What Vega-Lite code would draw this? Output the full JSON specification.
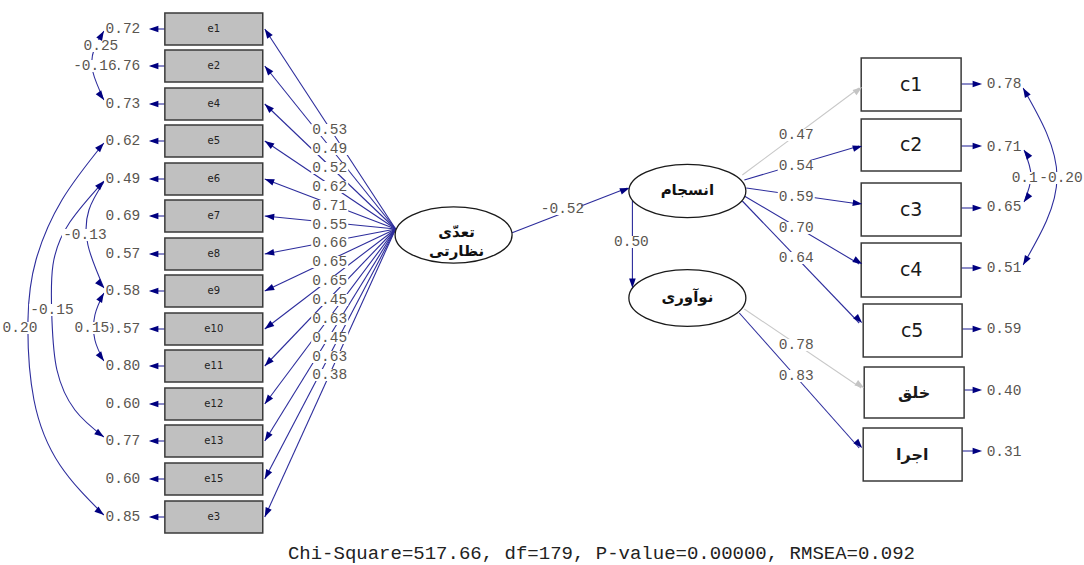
{
  "$schema": "https://vega.github.io/schema/vega-lite/v6.json",
  "width": 1084,
  "height": 565,
  "autosize": {"type": "fit", "contains": "padding"},
  "padding": 0,
  "background": "white",
  "config": {"view": {"stroke": null}},
  "resolve": {"scale": {"fill": "independent"}},
  "datasets": {
    "edges": [
      {"x": 396, "y": 229, "x2": 265, "y2": 29, "kind": "free"},
      {"x": 396, "y": 229, "x2": 265, "y2": 66, "kind": "free"},
      {"x": 396, "y": 229, "x2": 265, "y2": 104, "kind": "free"},
      {"x": 396, "y": 229, "x2": 265, "y2": 141, "kind": "free"},
      {"x": 396, "y": 229, "x2": 265, "y2": 179, "kind": "free"},
      {"x": 396, "y": 229, "x2": 265, "y2": 216, "kind": "free"},
      {"x": 396, "y": 229, "x2": 265, "y2": 254, "kind": "free"},
      {"x": 396, "y": 229, "x2": 265, "y2": 291, "kind": "free"},
      {"x": 396, "y": 229, "x2": 265, "y2": 329, "kind": "free"},
      {"x": 396, "y": 229, "x2": 265, "y2": 366, "kind": "free"},
      {"x": 396, "y": 229, "x2": 265, "y2": 404, "kind": "free"},
      {"x": 396, "y": 229, "x2": 265, "y2": 441, "kind": "free"},
      {"x": 396, "y": 229, "x2": 265, "y2": 479, "kind": "free"},
      {"x": 396, "y": 229, "x2": 265, "y2": 517, "kind": "free"},
      {"x": 165, "y": 29, "x2": 151, "y2": 29, "kind": "free"},
      {"x": 165, "y": 66, "x2": 151, "y2": 66, "kind": "free"},
      {"x": 165, "y": 104, "x2": 151, "y2": 104, "kind": "free"},
      {"x": 165, "y": 141, "x2": 151, "y2": 141, "kind": "free"},
      {"x": 165, "y": 179, "x2": 151, "y2": 179, "kind": "free"},
      {"x": 165, "y": 216, "x2": 151, "y2": 216, "kind": "free"},
      {"x": 165, "y": 254, "x2": 151, "y2": 254, "kind": "free"},
      {"x": 165, "y": 291, "x2": 151, "y2": 291, "kind": "free"},
      {"x": 165, "y": 329, "x2": 151, "y2": 329, "kind": "free"},
      {"x": 165, "y": 366, "x2": 151, "y2": 366, "kind": "free"},
      {"x": 165, "y": 404, "x2": 151, "y2": 404, "kind": "free"},
      {"x": 165, "y": 441, "x2": 151, "y2": 441, "kind": "free"},
      {"x": 165, "y": 479, "x2": 151, "y2": 479, "kind": "free"},
      {"x": 165, "y": 517, "x2": 151, "y2": 517, "kind": "free"},
      {"x": 743, "y": 175, "x2": 860, "y2": 88, "kind": "fixed"},
      {"x": 745, "y": 180, "x2": 860, "y2": 146, "kind": "free"},
      {"x": 747, "y": 188, "x2": 860, "y2": 204, "kind": "free"},
      {"x": 745, "y": 196, "x2": 860, "y2": 264, "kind": "free"},
      {"x": 743, "y": 201, "x2": 860, "y2": 323, "kind": "free"},
      {"x": 745, "y": 309, "x2": 862, "y2": 388, "kind": "fixed"},
      {"x": 740, "y": 313, "x2": 860, "y2": 448, "kind": "free"},
      {"x": 512, "y": 233, "x2": 628, "y2": 188, "kind": "free"},
      {"x": 633, "y": 194, "x2": 633, "y2": 286, "kind": "free"},
      {"x": 962, "y": 84, "x2": 980, "y2": 84, "kind": "free"},
      {"x": 962, "y": 146, "x2": 980, "y2": 146, "kind": "free"},
      {"x": 962, "y": 208, "x2": 980, "y2": 208, "kind": "free"},
      {"x": 962, "y": 268, "x2": 980, "y2": 268, "kind": "free"},
      {"x": 962, "y": 329, "x2": 980, "y2": 329, "kind": "free"},
      {"x": 962, "y": 390, "x2": 980, "y2": 390, "kind": "free"},
      {"x": 962, "y": 451, "x2": 980, "y2": 451, "kind": "free"}
    ],
    "arcs": [
      {"id": "A1", "i": 0, "x": 104, "y": 31}, {"id": "A1", "i": 1, "x": 94, "y": 50}, {"id": "A1", "i": 2, "x": 93, "y": 72}, {"id": "A1", "i": 3, "x": 104, "y": 100},
      {"id": "A2", "i": 0, "x": 104, "y": 143}, {"id": "A2", "i": 1, "x": 62, "y": 200}, {"id": "A2", "i": 2, "x": 36, "y": 260}, {"id": "A2", "i": 3, "x": 28, "y": 320}, {"id": "A2", "i": 4, "x": 34, "y": 400}, {"id": "A2", "i": 5, "x": 60, "y": 465}, {"id": "A2", "i": 6, "x": 104, "y": 515},
      {"id": "A3", "i": 0, "x": 104, "y": 181}, {"id": "A3", "i": 1, "x": 70, "y": 222}, {"id": "A3", "i": 2, "x": 53, "y": 265}, {"id": "A3", "i": 3, "x": 52, "y": 320}, {"id": "A3", "i": 4, "x": 57, "y": 370}, {"id": "A3", "i": 5, "x": 75, "y": 410}, {"id": "A3", "i": 6, "x": 104, "y": 437},
      {"id": "A4", "i": 0, "x": 104, "y": 182}, {"id": "A4", "i": 1, "x": 89, "y": 210}, {"id": "A4", "i": 2, "x": 88, "y": 245}, {"id": "A4", "i": 3, "x": 104, "y": 288},
      {"id": "A5", "i": 0, "x": 104, "y": 293}, {"id": "A5", "i": 1, "x": 95, "y": 315}, {"id": "A5", "i": 2, "x": 95, "y": 340}, {"id": "A5", "i": 3, "x": 104, "y": 361},
      {"id": "A6", "i": 0, "x": 1024, "y": 88}, {"id": "A6", "i": 1, "x": 1058, "y": 177}, {"id": "A6", "i": 2, "x": 1024, "y": 265},
      {"id": "A7", "i": 0, "x": 1025, "y": 150}, {"id": "A7", "i": 1, "x": 1032, "y": 176}, {"id": "A7", "i": 2, "x": 1025, "y": 202}
    ],
    "arrows": [
      {"x": 265, "y": 29, "ang": 326.8, "kind": "free"},
      {"x": 265, "y": 66, "ang": 321.2, "kind": "free"},
      {"x": 265, "y": 104, "ang": 313.7, "kind": "free"},
      {"x": 265, "y": 141, "ang": 303.9, "kind": "free"},
      {"x": 265, "y": 179, "ang": 290.9, "kind": "free"},
      {"x": 265, "y": 216, "ang": 275.7, "kind": "free"},
      {"x": 265, "y": 254, "ang": 259.2, "kind": "free"},
      {"x": 265, "y": 291, "ang": 244.7, "kind": "free"},
      {"x": 265, "y": 329, "ang": 232.6, "kind": "free"},
      {"x": 265, "y": 366, "ang": 223.7, "kind": "free"},
      {"x": 265, "y": 404, "ang": 216.8, "kind": "free"},
      {"x": 265, "y": 441, "ang": 211.7, "kind": "free"},
      {"x": 265, "y": 479, "ang": 207.7, "kind": "free"},
      {"x": 265, "y": 517, "ang": 204.5, "kind": "free"},
      {"x": 149, "y": 29, "ang": 270, "kind": "free"},
      {"x": 149, "y": 66, "ang": 270, "kind": "free"},
      {"x": 149, "y": 104, "ang": 270, "kind": "free"},
      {"x": 149, "y": 141, "ang": 270, "kind": "free"},
      {"x": 149, "y": 179, "ang": 270, "kind": "free"},
      {"x": 149, "y": 216, "ang": 270, "kind": "free"},
      {"x": 149, "y": 254, "ang": 270, "kind": "free"},
      {"x": 149, "y": 291, "ang": 270, "kind": "free"},
      {"x": 149, "y": 329, "ang": 270, "kind": "free"},
      {"x": 149, "y": 366, "ang": 270, "kind": "free"},
      {"x": 149, "y": 404, "ang": 270, "kind": "free"},
      {"x": 149, "y": 441, "ang": 270, "kind": "free"},
      {"x": 149, "y": 479, "ang": 270, "kind": "free"},
      {"x": 149, "y": 517, "ang": 270, "kind": "free"},
      {"x": 863, "y": 87, "ang": 53.8, "kind": "fixed"},
      {"x": 863, "y": 146, "ang": 73.8, "kind": "free"},
      {"x": 863, "y": 204, "ang": 97.9, "kind": "free"},
      {"x": 863, "y": 264, "ang": 120.2, "kind": "free"},
      {"x": 863, "y": 323, "ang": 135.7, "kind": "free"},
      {"x": 865, "y": 388, "ang": 123.6, "kind": "fixed"},
      {"x": 863, "y": 448, "ang": 137.9, "kind": "free"},
      {"x": 630, "y": 188, "ang": 69.1, "kind": "free"},
      {"x": 633, "y": 288, "ang": 180, "kind": "free"},
      {"x": 983, "y": 84, "ang": 90, "kind": "free"},
      {"x": 983, "y": 146, "ang": 90, "kind": "free"},
      {"x": 983, "y": 208, "ang": 90, "kind": "free"},
      {"x": 983, "y": 268, "ang": 90, "kind": "free"},
      {"x": 983, "y": 329, "ang": 90, "kind": "free"},
      {"x": 983, "y": 390, "ang": 90, "kind": "free"},
      {"x": 983, "y": 451, "ang": 90, "kind": "free"},
      {"x": 104, "y": 31, "ang": 30, "kind": "free"},
      {"x": 104, "y": 100, "ang": 145, "kind": "free"},
      {"x": 104, "y": 143, "ang": 42, "kind": "free"},
      {"x": 104, "y": 515, "ang": 128, "kind": "free"},
      {"x": 104, "y": 181, "ang": 42, "kind": "free"},
      {"x": 104, "y": 437, "ang": 125, "kind": "free"},
      {"x": 104, "y": 288, "ang": 138, "kind": "free"},
      {"x": 104, "y": 293, "ang": 30, "kind": "free"},
      {"x": 104, "y": 361, "ang": 145, "kind": "free"},
      {"x": 1024, "y": 88, "ang": 330, "kind": "free"},
      {"x": 1024, "y": 265, "ang": 210, "kind": "free"},
      {"x": 1025, "y": 150, "ang": 325, "kind": "free"},
      {"x": 1025, "y": 202, "ang": 215, "kind": "free"}
    ],
    "labels": [
      {"t": "0.72", "x": 123, "y": 29, "k": "a"}, {"t": "0.76", "x": 123, "y": 66, "k": "a"}, {"t": "0.73", "x": 123, "y": 104, "k": "a"},
      {"t": "0.62", "x": 123, "y": 141, "k": "a"}, {"t": "0.49", "x": 123, "y": 179, "k": "a"}, {"t": "0.69", "x": 123, "y": 216, "k": "a"},
      {"t": "0.57", "x": 123, "y": 254, "k": "a"}, {"t": "0.58", "x": 123, "y": 291, "k": "a"}, {"t": "0.57", "x": 123, "y": 329, "k": "a"},
      {"t": "0.80", "x": 123, "y": 366, "k": "a"}, {"t": "0.60", "x": 123, "y": 404, "k": "a"}, {"t": "0.77", "x": 123, "y": 441, "k": "a"},
      {"t": "0.60", "x": 123, "y": 479, "k": "a"}, {"t": "0.85", "x": 123, "y": 517, "k": "a"},
      {"t": "0.25", "x": 101, "y": 46, "k": "b"}, {"t": "-0.16", "x": 95, "y": 66, "k": "b"}, {"t": "-0.13", "x": 85, "y": 235, "k": "b"},
      {"t": "-0.15", "x": 52, "y": 310, "k": "b"}, {"t": "0.20", "x": 20, "y": 328, "k": "b"}, {"t": "0.15", "x": 92, "y": 328, "k": "b"},
      {"t": "0.53", "x": 330, "y": 130, "k": "a"}, {"t": "0.49", "x": 330, "y": 149, "k": "a"}, {"t": "0.52", "x": 330, "y": 168, "k": "a"},
      {"t": "0.62", "x": 330, "y": 187, "k": "a"}, {"t": "0.71", "x": 330, "y": 206, "k": "a"}, {"t": "0.55", "x": 330, "y": 225, "k": "a"},
      {"t": "0.66", "x": 330, "y": 243, "k": "a"}, {"t": "0.65", "x": 330, "y": 262, "k": "a"}, {"t": "0.65", "x": 330, "y": 281, "k": "a"},
      {"t": "0.45", "x": 330, "y": 300, "k": "a"}, {"t": "0.63", "x": 330, "y": 319, "k": "a"}, {"t": "0.45", "x": 330, "y": 338, "k": "a"},
      {"t": "0.63", "x": 330, "y": 357, "k": "a"}, {"t": "0.38", "x": 330, "y": 375, "k": "a"},
      {"t": "-0.52", "x": 563, "y": 209, "k": "a"}, {"t": "0.50", "x": 632, "y": 242, "k": "a"},
      {"t": "0.47", "x": 797, "y": 135, "k": "a"}, {"t": "0.54", "x": 797, "y": 166, "k": "a"}, {"t": "0.59", "x": 797, "y": 197, "k": "a"},
      {"t": "0.70", "x": 797, "y": 228, "k": "a"}, {"t": "0.64", "x": 797, "y": 258, "k": "a"}, {"t": "0.78", "x": 797, "y": 345, "k": "a"},
      {"t": "0.83", "x": 797, "y": 376, "k": "a"},
      {"t": "0.78", "x": 1005, "y": 84, "k": "a"}, {"t": "0.71", "x": 1005, "y": 147, "k": "a"}, {"t": "0.65", "x": 1005, "y": 207, "k": "a"},
      {"t": "0.51", "x": 1005, "y": 268, "k": "a"}, {"t": "0.59", "x": 1005, "y": 329, "k": "a"}, {"t": "0.40", "x": 1005, "y": 391, "k": "a"},
      {"t": "0.31", "x": 1005, "y": 452, "k": "a"},
      {"t": "0.17", "x": 1030, "y": 178, "k": "a"}, {"t": "-0.20", "x": 1062, "y": 178, "k": "b"}
    ],
    "boxes": [
      {"t": "e1", "x1": 165, "x2": 263, "y1": 13, "y2": 45, "xc": 214, "yc": 29, "side": "left"},
      {"t": "e2", "x1": 165, "x2": 263, "y1": 50, "y2": 82, "xc": 214, "yc": 66, "side": "left"},
      {"t": "e4", "x1": 165, "x2": 263, "y1": 88, "y2": 120, "xc": 214, "yc": 104, "side": "left"},
      {"t": "e5", "x1": 165, "x2": 263, "y1": 125, "y2": 157, "xc": 214, "yc": 141, "side": "left"},
      {"t": "e6", "x1": 165, "x2": 263, "y1": 163, "y2": 195, "xc": 214, "yc": 179, "side": "left"},
      {"t": "e7", "x1": 165, "x2": 263, "y1": 200, "y2": 232, "xc": 214, "yc": 216, "side": "left"},
      {"t": "e8", "x1": 165, "x2": 263, "y1": 238, "y2": 270, "xc": 214, "yc": 254, "side": "left"},
      {"t": "e9", "x1": 165, "x2": 263, "y1": 275, "y2": 307, "xc": 214, "yc": 291, "side": "left"},
      {"t": "e10", "x1": 165, "x2": 263, "y1": 313, "y2": 345, "xc": 214, "yc": 329, "side": "left"},
      {"t": "e11", "x1": 165, "x2": 263, "y1": 350, "y2": 382, "xc": 214, "yc": 366, "side": "left"},
      {"t": "e12", "x1": 165, "x2": 263, "y1": 388, "y2": 420, "xc": 214, "yc": 404, "side": "left"},
      {"t": "e13", "x1": 165, "x2": 263, "y1": 425, "y2": 457, "xc": 214, "yc": 441, "side": "left"},
      {"t": "e15", "x1": 165, "x2": 263, "y1": 463, "y2": 495, "xc": 214, "yc": 479, "side": "left"},
      {"t": "e3", "x1": 165, "x2": 263, "y1": 501, "y2": 533, "xc": 214, "yc": 517, "side": "left"},
      {"t": "c1", "x1": 862, "x2": 962, "y1": 58, "y2": 111, "xc": 912, "yc": 84.5, "side": "right"},
      {"t": "c2", "x1": 862, "x2": 962, "y1": 119, "y2": 171, "xc": 912, "yc": 145, "side": "right"},
      {"t": "c3", "x1": 862, "x2": 962, "y1": 183, "y2": 236, "xc": 912, "yc": 209.5, "side": "right"},
      {"t": "c4", "x1": 862, "x2": 962, "y1": 243, "y2": 297, "xc": 912, "yc": 270, "side": "right"},
      {"t": "c5", "x1": 864, "x2": 963, "y1": 304, "y2": 357, "xc": 913, "yc": 330.5, "side": "right"},
      {"t": "خلق", "x1": 865, "x2": 965, "y1": 367, "y2": 418, "xc": 915, "yc": 392.5, "side": "fa"},
      {"t": "اجرا", "x1": 864, "x2": 963, "y1": 428, "y2": 481, "xc": 913, "yc": 454.5, "side": "fa"}
    ],
    "latent": [
      {"name": "tadi", "t": "تعدّی\nنظارتی", "x": 454, "y": 235, "tx": 457, "ty": 232},
      {"name": "ensejam", "t": "انسجام", "x": 688, "y": 191, "tx": 688, "ty": 190},
      {"name": "noavari", "t": "نوآوری", "x": 688, "y": 298, "tx": 688, "ty": 297}
    ],
    "fit": [
      {"t": "Chi-Square=517.66, df=179, P-value=0.00000, RMSEA=0.092", "x": 602, "y": 553}
    ]
  },
  "layer": [
    {
      "data": {"name": "edges"},
      "mark": {"type": "rule", "strokeWidth": 1.1},
      "encoding": {
        "x": {"field": "x", "type": "quantitative", "scale": {"domain": [0, 1084], "nice": false, "zero": false}, "axis": null},
        "y": {"field": "y", "type": "quantitative", "scale": {"domain": [0, 565], "reverse": true, "nice": false, "zero": false}, "axis": null},
        "x2": {"field": "x2"},
        "y2": {"field": "y2"},
        "color": {"field": "kind", "type": "nominal", "scale": {"domain": ["free", "fixed"], "range": ["#2c2c9c", "#c8c8c8"]}, "legend": null}
      }
    },
    {
      "data": {"name": "arcs"},
      "mark": {"type": "line", "interpolate": "natural", "strokeWidth": 1.1, "color": "#2c2c9c"},
      "encoding": {
        "x": {"field": "x", "type": "quantitative", "axis": null},
        "y": {"field": "y", "type": "quantitative", "axis": null},
        "detail": {"field": "id", "type": "nominal"},
        "order": {"field": "i", "type": "quantitative"}
      }
    },
    {
      "data": {"name": "labels"},
      "transform": [{"filter": "datum.k == 'a'"}],
      "mark": {"type": "point", "shape": "M-1,-0.33L1,-0.33L1,0.33L-1,0.33Z", "filled": true, "fill": "white", "strokeWidth": 0, "opacity": 1, "size": 1369},
      "encoding": {
        "x": {"field": "x", "type": "quantitative", "axis": null},
        "y": {"field": "y", "type": "quantitative", "axis": null}
      }
    },
    {
      "data": {"name": "labels"},
      "transform": [{"filter": "datum.k == 'a'"}],
      "mark": {"type": "text", "font": "Liberation Mono", "fontSize": 14.5, "color": "#5a5650", "align": "center", "baseline": "middle"},
      "encoding": {
        "x": {"field": "x", "type": "quantitative", "axis": null},
        "y": {"field": "y", "type": "quantitative", "axis": null},
        "text": {"field": "t", "type": "nominal"}
      }
    },
    {
      "data": {"name": "labels"},
      "transform": [{"filter": "datum.k == 'b' && length(datum.t) <= 4"}],
      "mark": {"type": "point", "shape": "M-1,-0.33L1,-0.33L1,0.33L-1,0.33Z", "filled": true, "fill": "white", "strokeWidth": 0, "opacity": 1, "size": 1369},
      "encoding": {
        "x": {"field": "x", "type": "quantitative", "axis": null},
        "y": {"field": "y", "type": "quantitative", "axis": null}
      }
    },
    {
      "data": {"name": "labels"},
      "transform": [{"filter": "datum.k == 'b' && length(datum.t) > 4"}],
      "mark": {"type": "point", "shape": "M-1,-0.26L1,-0.26L1,0.26L-1,0.26Z", "filled": true, "fill": "white", "strokeWidth": 0, "opacity": 1, "size": 2116},
      "encoding": {
        "x": {"field": "x", "type": "quantitative", "axis": null},
        "y": {"field": "y", "type": "quantitative", "axis": null}
      }
    },
    {
      "data": {"name": "labels"},
      "transform": [{"filter": "datum.k == 'b'"}],
      "mark": {"type": "text", "font": "Liberation Mono", "fontSize": 14.5, "color": "#5a5650", "align": "center", "baseline": "middle"},
      "encoding": {
        "x": {"field": "x", "type": "quantitative", "axis": null},
        "y": {"field": "y", "type": "quantitative", "axis": null},
        "text": {"field": "t", "type": "nominal"}
      }
    },
    {
      "data": {"name": "boxes"},
      "mark": {"type": "rect", "stroke": "#3a3a3a", "strokeWidth": 1.5},
      "encoding": {
        "x": {"field": "x1", "type": "quantitative", "axis": null},
        "x2": {"field": "x2"},
        "y": {"field": "y1", "type": "quantitative", "axis": null},
        "y2": {"field": "y2"},
        "fill": {"field": "side", "type": "nominal", "scale": {"domain": ["left", "right", "fa"], "range": ["#c0c0c0", "#ffffff", "#ffffff"]}, "legend": null}
      }
    },
    {
      "data": {"name": "latent"},
      "mark": {"type": "point", "fill": "white", "stroke": "#1a1a1a", "strokeWidth": 1.3, "opacity": 1, "fillOpacity": 1, "size": 13689},
      "encoding": {
        "x": {"field": "x", "type": "quantitative", "axis": null},
        "y": {"field": "y", "type": "quantitative", "axis": null},
        "shape": {"field": "name", "type": "nominal", "scale": {"domain": ["tadi", "ensejam", "noavari"], "range": ["M-1,0A1,0.48 0 1,0 1,0A1,0.48 0 1,0 -1,0Z", "M-1,0A1,0.455 0 1,0 1,0A1,0.455 0 1,0 -1,0Z", "M-1,0A1,0.485 0 1,0 1,0A1,0.485 0 1,0 -1,0Z"]}, "legend": null}
      }
    },
    {
      "data": {"name": "arrows"},
      "mark": {"type": "point", "shape": "M0,0L0.7,2L-0.7,2Z", "filled": true, "strokeWidth": 0, "opacity": 1, "size": 90},
      "encoding": {
        "x": {"field": "x", "type": "quantitative", "axis": null},
        "y": {"field": "y", "type": "quantitative", "axis": null},
        "angle": {"field": "ang", "type": "quantitative", "scale": {"domain": [0, 360], "range": [0, 360]}, "legend": null},
        "fill": {"field": "kind", "type": "nominal", "scale": {"domain": ["free", "fixed"], "range": ["#000080", "#c4c4c4"]}, "legend": null}
      }
    },
    {
      "data": {"name": "boxes"},
      "transform": [{"filter": "datum.side == 'left'"}],
      "mark": {"type": "text", "font": "DejaVu Sans", "fontSize": 10, "color": "#222222", "align": "center", "baseline": "middle"},
      "encoding": {
        "x": {"field": "xc", "type": "quantitative", "axis": null},
        "y": {"field": "yc", "type": "quantitative", "axis": null},
        "text": {"field": "t", "type": "nominal"}
      }
    },
    {
      "data": {"name": "boxes"},
      "transform": [{"filter": "datum.side == 'right'"}],
      "mark": {"type": "text", "font": "DejaVu Sans", "fontSize": 19, "color": "#1a1a1a", "align": "center", "baseline": "middle"},
      "encoding": {
        "x": {"field": "xc", "type": "quantitative", "axis": null},
        "y": {"field": "yc", "type": "quantitative", "axis": null},
        "text": {"field": "t", "type": "nominal"}
      }
    },
    {
      "data": {"name": "boxes"},
      "transform": [{"filter": "datum.side == 'fa'"}],
      "mark": {"type": "text", "font": "DejaVu Sans", "fontSize": 16, "fontWeight": "bold", "color": "#1a1a1a", "align": "center", "baseline": "middle"},
      "encoding": {
        "x": {"field": "xc", "type": "quantitative", "axis": null},
        "y": {"field": "yc", "type": "quantitative", "axis": null},
        "text": {"field": "t", "type": "nominal"}
      }
    },
    {
      "data": {"name": "latent"},
      "mark": {"type": "text", "font": "DejaVu Sans", "fontSize": 15, "fontWeight": "bold", "color": "#111111", "align": "center", "baseline": "middle", "lineBreak": "\n", "lineHeight": 19},
      "encoding": {
        "x": {"field": "tx", "type": "quantitative", "axis": null},
        "y": {"field": "ty", "type": "quantitative", "axis": null},
        "text": {"field": "t", "type": "nominal"}
      }
    },
    {
      "data": {"name": "fit"},
      "mark": {"type": "text", "font": "Liberation Mono", "fontSize": 19, "color": "#222222", "align": "center", "baseline": "middle"},
      "encoding": {
        "x": {"field": "x", "type": "quantitative", "axis": null},
        "y": {"field": "y", "type": "quantitative", "axis": null},
        "text": {"field": "t", "type": "nominal"}
      }
    }
  ]
}
